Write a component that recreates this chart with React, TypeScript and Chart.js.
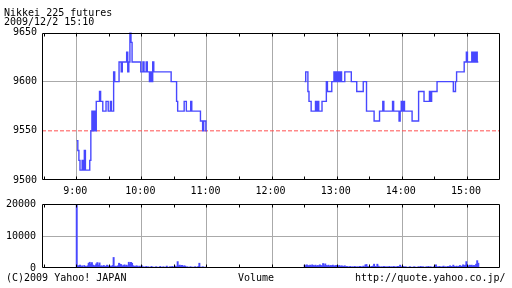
import React, { useEffect, useRef } from 'react';
import { Chart, registerables } from 'chart.js';

Chart.register(...registerables);

// ---- texts ----
const titleText = 'Nikkei 225 futures';
const dateText = '2009/12/2 15:10';
const footerLeft = '(C)2009 Yahoo! JAPAN';
const footerCenter = 'Volume';
const footerRight = 'http://quote.yahoo.co.jp/';

// ---- axes (time = minutes after 9:00) ----
const xMin = -32;
const xMax = 390;
const halfHourTickMinutes = [-30, 0, 30, 60, 90, 120, 150, 180, 210, 240, 270, 300, 330, 360, 390];
const hourTickMinutes = [0, 60, 120, 180, 240, 300, 360];
const hourTickLabels = ['9:00', '10:00', '11:00', '12:00', '13:00', '14:00', '15:00'];
const priceTicks = [9500, 9550, 9600, 9650];
const priceGridValues = [9600];
const volumeTicks = [0, 10000, 20000];
const volumeGridValues = [10000];
const prevClose = 9550;

// ---- price (change points, minutes after 9:00) ----
const morningMinutes = [0, 1, 2, 3, 5, 6, 7, 8, 12, 13, 14, 15, 16, 17, 18, 21, 22, 24, 27, 29, 31, 32, 34, 35, 39, 41, 42, 46, 47, 48, 49, 50, 51, 59, 61, 62, 64, 65, 67, 68, 69, 70, 71, 87, 92, 93, 99, 101, 105, 106, 114, 116, 117, 119, 120];
const morningPrices = [9540, 9530, 9520, 9510, 9520, 9510, 9530, 9510, 9520, 9550, 9570, 9550, 9570, 9550, 9580, 9590, 9580, 9570, 9580, 9570, 9580, 9570, 9610, 9600, 9620, 9610, 9620, 9630, 9610, 9620, 9650, 9640, 9620, 9610, 9620, 9610, 9620, 9610, 9600, 9610, 9600, 9620, 9610, 9600, 9580, 9570, 9580, 9570, 9580, 9570, 9560, 9550, 9560, 9550, 9550];
const afternoonMinutes = [210, 211, 213, 214, 216, 220, 221, 222, 223, 226, 230, 231, 235, 237, 238, 239, 240, 241, 242, 243, 244, 247, 253, 258, 264, 267, 274, 279, 282, 283, 291, 292, 297, 298, 299, 300, 301, 302, 309, 315, 320, 325, 326, 327, 332, 347, 349, 350, 357, 359, 360, 364, 365, 366, 367, 368, 369, 370];
const afternoonPrices = [9600, 9610, 9590, 9580, 9570, 9580, 9570, 9580, 9570, 9580, 9600, 9590, 9600, 9610, 9600, 9610, 9600, 9610, 9600, 9610, 9600, 9610, 9600, 9590, 9600, 9570, 9560, 9570, 9580, 9570, 9580, 9570, 9560, 9570, 9580, 9570, 9580, 9570, 9560, 9590, 9580, 9590, 9580, 9590, 9600, 9590, 9600, 9610, 9620, 9630, 9620, 9630, 9620, 9630, 9620, 9630, 9620, 9620];

// ---- volume (one value per minute) ----
const morningVolumeStart = 0;
const morningVolumes = [
  20000,
  800, 500, 900, 400, 700, 300, 800, 500, 400, 700,
  1500, 1800, 1200, 1700, 900, 600, 800, 1300, 1700, 900,
  1600, 600, 700, 500, 800, 400, 600, 900, 500, 700,
  600, 500, 800, 3300, 500, 600, 400, 700, 1500, 1200,
  1100, 600, 800, 1000, 700, 900, 600, 1800, 1200, 1800,
  1500, 700, 600, 500, 700, 600, 400, 600, 500, 700,
  300, 400, 200, 500, 300, 400, 200, 300, 500, 200,
  300, 200, 400, 300, 200, 300, 500, 200, 300, 400,
  200, 300, 600, 200, 300, 400, 300, 500, 300, 400,
  600, 400, 2000, 700, 900, 600, 800, 500, 700, 600,
  300, 400, 200, 300, 400, 200, 300, 200, 400, 300,
  200, 500, 1500, 300, 200, 400, 300, 200, 300, 200,
];
const afternoonVolumeStart = 210;
const afternoonVolumes = [
  900, 700, 1000, 800, 600, 900, 700, 1000, 800, 700,
  900, 600, 800, 700, 1000, 800, 600, 1400, 700, 1300,
  800, 700, 900, 600, 800, 700, 900, 600, 700, 800,
  700, 600, 800, 500, 700, 600, 500, 700, 400, 500,
  300, 400, 500, 300, 400, 300, 500, 400, 300, 400,
  300, 500, 400, 300, 600, 400, 1000, 1100, 500, 400,
  300, 400, 500, 600, 1200, 500, 400, 1200, 600, 400,
  300, 400, 300, 500, 400, 300, 400, 300, 500, 300,
  400, 300, 500, 400, 300, 400, 500, 300, 900, 400,
  300, 500, 300, 400, 300, 200, 300, 400, 300, 200,
  300, 400, 300, 200, 300, 400, 300, 500, 300, 400,
  300, 200, 400, 300, 500, 300, 400, 300, 200, 400,
  500, 1000, 400, 300, 500, 400, 300, 400, 600, 300,
  400, 300, 500, 400, 700, 500, 400, 900, 500, 400,
  600, 400, 500, 800, 600, 500, 1000, 700, 900, 2000,
  700, 600, 900, 800, 900, 600, 800, 700, 1200, 2300,
  1500,
];

// ---- styles ----
const BLUE = '#4848ff';
const GRAY = '#aaaaaa';
const RED = '#ff5050';
const FONT = '"DejaVu Sans Mono", monospace';
const CLEAR = 'rgba(0,0,0,0)';

const align = (p: number) => Math.round(p - 0.5) + 0.5;

const framePlugin = {
  id: 'frame',
  afterDraw(chart: any) {
    const { ctx, chartArea: a, scales } = chart;
    ctx.save();
    ctx.strokeStyle = '#000';
    ctx.lineWidth = 1;
    const l = Math.round(a.left) + 0.5;
    const r = Math.round(a.right) - 0.5;
    const t = Math.round(a.top) + 0.5;
    const b = Math.round(a.bottom) - 0.5;
    ctx.beginPath();
    ctx.rect(l, t, r - l, b - t);
    for (const m of halfHourTickMinutes) {
      const px = align(scales.x.getPixelForValue(m));
      if (px <= l + 1 || px >= r - 1) continue;
      ctx.moveTo(px, t);
      ctx.lineTo(px, t + 3);
      ctx.moveTo(px, b);
      ctx.lineTo(px, b - 3);
    }
    ctx.stroke();
    ctx.restore();
  },
};

function xScale(showLabels: boolean) {
  return {
    type: 'linear',
    min: xMin,
    max: xMax,
    offset: false,
    afterBuildTicks: (axis: any) => {
      axis.ticks = halfHourTickMinutes.map((value) => ({ value }));
    },
    afterFit: (axis: any) => {
      axis.height = showLabels ? 20 : 0;
    },
    border: { display: false },
    grid: {
      offset: false,
      drawTicks: false,
      color: (ctx: any) => (ctx.tick && hourTickMinutes.includes(ctx.tick.value) ? GRAY : CLEAR),
    },
    ticks: {
      display: showLabels,
      autoSkip: false,
      maxRotation: 0,
      padding: 5,
      labelOffset: -1.5,
      color: '#000',
      font: { family: FONT, size: 10 },
      callback: (value: any) => {
        const i = hourTickMinutes.indexOf(Number(value));
        return i >= 0 ? hourTickLabels[i] : '';
      },
    },
  };
}

export default function App() {
  const priceRef = useRef<HTMLCanvasElement>(null);
  const volRef = useRef<HTMLCanvasElement>(null);

  useEffect(() => {
    const toPoints = (xs: number[], ys: number[]) => xs.map((x, i) => ({ x, y: ys[i] }));
    const volPoints = [
      ...morningVolumes.map((v, i) => ({ x: morningVolumeStart + i, y: v })),
      ...afternoonVolumes.map((v, i) => ({ x: afternoonVolumeStart + i, y: v })),
    ];

    const lineStyle = {
      borderColor: BLUE,
      borderWidth: 1.4,
      pointRadius: 0,
      stepped: 'before',
      fill: false,
      tension: 0,
    };

    const c1 = new Chart(priceRef.current as HTMLCanvasElement, {
      type: 'line',
      data: {
        datasets: [
          { ...lineStyle, data: toPoints(morningMinutes, morningPrices) } as any,
          { ...lineStyle, data: toPoints(afternoonMinutes, afternoonPrices) } as any,
          {
            data: [{ x: xMin, y: prevClose }, { x: xMax, y: prevClose }],
            borderColor: RED,
            borderWidth: 1,
            borderDash: [4, 2],
            pointRadius: 0,
            fill: false,
          } as any,
        ],
      },
      options: {
        responsive: false,
        animation: false,
        devicePixelRatio: 1,
        layout: { padding: { top: 32.5, right: 12, bottom: 88, left: 0 } },
        plugins: { legend: { display: false }, tooltip: { enabled: false } },
        scales: {
          x: xScale(true) as any,
          y: {
            type: 'linear',
            min: priceTicks[0],
            max: priceTicks[priceTicks.length - 1],
            afterBuildTicks: (axis: any) => {
              axis.ticks = priceTicks.map((value) => ({ value }));
            },
            afterFit: (axis: any) => {
              axis.width = 42;
            },
            border: { display: false },
            grid: {
              drawTicks: false,
              color: (ctx: any) => (ctx.tick && priceGridValues.includes(ctx.tick.value) ? GRAY : CLEAR),
            },
            ticks: {
              padding: 5,
              color: '#000',
              font: { family: FONT, size: 10 },
              callback: (value: any) => String(value),
            },
          } as any,
        },
      },
      plugins: [framePlugin],
    });

    const c2 = new Chart(volRef.current as HTMLCanvasElement, {
      type: 'bar',
      data: {
        datasets: [
          {
            data: volPoints as any,
            backgroundColor: BLUE,
            borderWidth: 0,
            barThickness: 1.3,
            categoryPercentage: 1,
            barPercentage: 1,
          } as any,
        ],
      },
      options: {
        responsive: false,
        animation: false,
        devicePixelRatio: 1,
        layout: { padding: { top: 204, right: 12, bottom: 20, left: 0 } },
        plugins: { legend: { display: false }, tooltip: { enabled: false } },
        scales: {
          x: xScale(false) as any,
          y: {
            type: 'linear',
            min: volumeTicks[0],
            max: volumeTicks[volumeTicks.length - 1],
            afterBuildTicks: (axis: any) => {
              axis.ticks = volumeTicks.map((value) => ({ value }));
            },
            afterFit: (axis: any) => {
              axis.width = 42;
            },
            border: { display: false },
            grid: {
              drawTicks: false,
              color: (ctx: any) => (ctx.tick && volumeGridValues.includes(ctx.tick.value) ? GRAY : CLEAR),
            },
            ticks: {
              padding: 6,
              color: '#000',
              font: { family: FONT, size: 10 },
              callback: (value: any) => String(value),
            },
          } as any,
        },
      },
      plugins: [framePlugin],
    });

    return () => {
      c1.destroy();
      c2.destroy();
    };
  }, []);

  const textStyle = (left: number, top: number): React.CSSProperties => ({
    position: 'absolute',
    left,
    top,
    margin: 0,
    font: `10px ${FONT}`,
    lineHeight: '10px',
    color: '#000',
    whiteSpace: 'pre',
  });

  return (
    <div style={{ position: 'fixed', left: 0, top: 0, width: 512, height: 288, background: '#fff', overflow: 'hidden' }}>
      <canvas ref={priceRef} width={512} height={288} style={{ position: 'absolute', left: 0, top: 0, width: 512, height: 288 }} />
      <canvas ref={volRef} width={512} height={288} style={{ position: 'absolute', left: 0, top: 0, width: 512, height: 288 }} />
      <div style={textStyle(4, 8)}>{titleText}</div>
      <div style={textStyle(4, 17)}>{dateText}</div>
      <div style={textStyle(6, 273)}>{footerLeft}</div>
      <div style={textStyle(238, 273)}>{footerCenter}</div>
      <div style={textStyle(355, 273)}>{footerRight}</div>
    </div>
  );
}
